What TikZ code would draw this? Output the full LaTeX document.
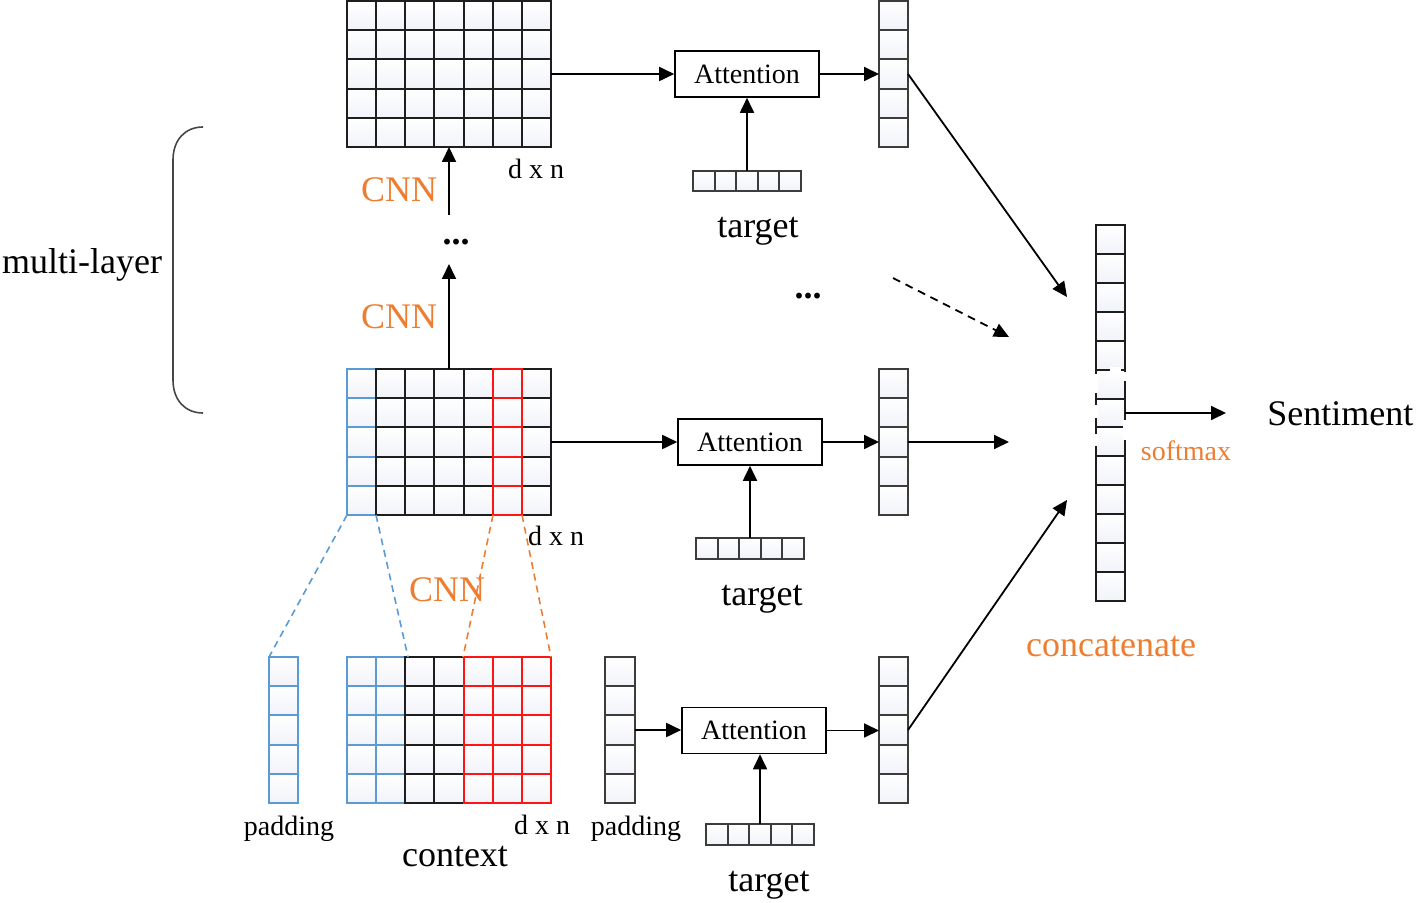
\documentclass[tikz,border=0pt]{standalone}
\usepackage{fontspec}
\setmainfont{Liberation Serif}
\usetikzlibrary{arrows.meta}
\definecolor{cnnorange}{RGB}{237,125,49}
\definecolor{padblue}{RGB}{91,155,213}
\definecolor{kred}{RGB}{255,20,20}
\definecolor{cellbot}{RGB}{241,243,249}
\definecolor{bracegray}{RGB}{70,70,70}
\definecolor{dkline}{RGB}{30,30,30}
\definecolor{gline}{RGB}{60,60,60}
\tikzset{
  cellstyle/.style={line width=1pt, top color=white, bottom color=cellbot},
  area/.style 2 args={minimum width=#1*0.5pt, minimum height=#2*0.5pt, inner sep=0pt, outer sep=0pt, draw=none},
  arr/.style={-{Triangle[length=7.5pt,width=7pt]}, line width=0.9pt},
  att/.style={draw, line width=0.8pt, minimum width=72pt, minimum height=23pt, inner sep=0pt, font=\fontsize{14}{16}\selectfont},
  big/.style={font=\fontsize{18}{20}\selectfont, inner sep=0pt},
  small/.style={font=\fontsize{14}{16}\selectfont, inner sep=0pt},
  orangetxt/.style={text=cnnorange},
  bluedash/.style={draw=padblue, line width=0.8pt, dash pattern=on 3.5pt off 2.5pt},
  orangedash/.style={draw=cnnorange, line width=0.8pt, dash pattern=on 3.5pt off 2.5pt},
  gap/.style={fill=white, draw=none}
}
\newcommand\drawcells[7]{%
  \foreach \ci in {1,...,#3}{\foreach \rj in {1,...,#4}{%
    \draw[cellstyle, draw=#7] ({#1+(\ci-1)*#5},{#2+(\rj-1)*#6}) rectangle ++(#5,#6);}}}
\begin{document}
\begin{tikzpicture}[x=0.5pt,y=-0.5pt]
\useasboundingbox (0,0) rectangle (1419,903);

% ---------- grids (named areas) ----------
\node[area={204}{146}] (gtop) at (449,74) {};
\node[area={204}{146}] (gmid) at (449,442) {};
\node[area={204}{146}] (gbot) at (449,730) {};
\node[area={29}{146}] (padL) at (283.5,730) {};
\node[area={30}{146}] (padR) at (620,730) {};
\node[area={29}{146}] (outtop) at (893.5,74) {};
\node[area={29}{146}] (outmid) at (893.5,442) {};
\node[area={29}{146}] (outbot) at (893.5,730) {};
\node[area={108}{20}] (tgttop) at (747,181) {};
\node[area={108}{21}] (tgtmid) at (750,548.5) {};
\node[area={108}{21}] (tgtbot) at (760,834.5) {};
\node[area={29}{376}] (concat) at (1110.5,413) {};

% top grid
\drawcells{347}{1}{7}{5}{29.14}{29.2}{dkline}
% middle grid
\drawcells{347}{369}{1}{5}{29.14}{29.2}{padblue}
\drawcells{376.14}{369}{6}{5}{29.14}{29.2}{dkline}
\drawcells{492.7}{369}{1}{5}{29.14}{29.2}{kred}
% bottom grid
\drawcells{347}{657}{2}{5}{29.14}{29.2}{padblue}
\drawcells{405.28}{657}{2}{5}{29.14}{29.2}{dkline}
\drawcells{463.56}{657}{3}{5}{29.14}{29.2}{kred}
% padding columns
\drawcells{269}{657}{1}{5}{29}{29.2}{padblue}
\drawcells{605}{657}{1}{5}{30}{29.2}{gline}
% output columns
\drawcells{879}{1}{1}{5}{29}{29.2}{gline}
\drawcells{879}{369}{1}{5}{29}{29.2}{gline}
\drawcells{879}{657}{1}{5}{29}{29.2}{gline}
% target vectors
\drawcells{693}{171}{5}{1}{21.6}{20}{gline}
\drawcells{696}{538}{5}{1}{21.6}{21}{gline}
\drawcells{706}{824}{5}{1}{21.6}{21}{gline}
% concatenate column
\drawcells{1096}{225}{1}{13}{29}{28.92}{dkline}
\fill[gap] (1110,367) rectangle (1121,373);
\fill[gap] (1094,374) rectangle (1098,393);
\fill[gap] (1123,372) rectangle (1127,381);
\fill[gap] (1094,405) rectangle (1098,418);
\fill[gap] (1094,434) rectangle (1098,446);
\fill[gap] (1123,420) rectangle (1127,440);

% ---------- attention boxes ----------
\node[att] (atttop) at (747,74) {Attention};
\node[att] (attmid) at (750,442) {Attention};
\node[att] (attbot) at (754,730.5) {Attention};

% ---------- connectors ----------
\draw[arr] (gtop.east) -- (atttop.west);
\draw[arr] (atttop.east) -- (outtop.west);
\draw[arr] (tgttop.north) -- (tgttop.north |- atttop.south);
\draw[arr] (gmid.east) -- (attmid.west);
\draw[arr] (attmid.east) -- (outmid.west);
\draw[arr] (tgtmid.north) -- (tgtmid.north |- attmid.south);
\draw[arr] (padR.east) -- (padR.east -| attbot.west);
\draw[arr] (attbot.east) -- (attbot.east -| outbot.west);
\draw[arr] (tgtbot.north) -- (tgtbot.north |- attbot.south);

\coordinate (c1) at (1067,297);
\coordinate (c2) at (1009,442);
\coordinate (c3) at (1067,500);
\coordinate (d0) at (893,278);
\coordinate (d1) at (1009,337);
\draw[arr] (outtop.east) -- (c1);
\draw[arr] (outmid.east) -- (c2);
\draw[arr] (outbot.east) -- (c3);
\draw[arr, dash pattern=on 4pt off 3pt] (d0) -- (d1);

\coordinate (sm) at (1226,413);
\draw[arr] (concat.east) -- (sm);

\coordinate (cnnA) at (449,215);
\coordinate (dotsA) at (449,264);
\draw[arr] (cnnA) -- (gtop.south);
\draw[arr] (gmid.north) -- (dotsA);

% projection lines
\coordinate (m1) at (376,515);
\coordinate (b2) at (408,657);
\coordinate (m5) at (493,515);
\coordinate (b4) at (463,657);
\coordinate (m6) at (522,515);
\draw[bluedash] (gmid.south west) -- (padL.north west);
\draw[bluedash] (m1) -- (b2);
\draw[orangedash] (m5) -- (b4);
\draw[orangedash] (m6) -- (gbot.north east);

% brace
\draw[bracegray, line width=0.8pt] (203,127) .. controls (185,127) and (173,140) .. (173,160) -- (173,380) .. controls (173,400) and (185,413) .. (203,413);

% ---------- labels ----------
\node[big] (ml) at (82,265) {multi-layer};
\node[big, orangetxt] (cnn1) at (399,190) {CNN};
\node[big, orangetxt] (cnn2) at (399,317) {CNN};
\node[big, orangetxt] (cnn3) at (447,590) {CNN};
\node[big] (dots1) at (456,242) {\textbf{...}};
\node[big] (dots2) at (808,296) {\textbf{...}};
\node[small] (dn1) at (536,169) {d x n};
\node[small] (dn2) at (556,536) {d x n};
\node[small] (dn3) at (542,825) {d x n};
\node[big] (tg1) at (758,231) {target};
\node[big] (tg2) at (762,599) {target};
\node[big] (tg3) at (769,885) {target};
\node[small] (pd1) at (289,829) {padding};
\node[small] (pd2) at (636,829) {padding};
\node[big] (ctx) at (455,857) {context};
\node[big, anchor=west] (sent) at (1267,414) {Sentiment};
\node[small, orangetxt] (soft) at (1186,451) {softmax};
\node[big, orangetxt] (conc) at (1111,647) {concatenate};
\end{tikzpicture}
\end{document}
